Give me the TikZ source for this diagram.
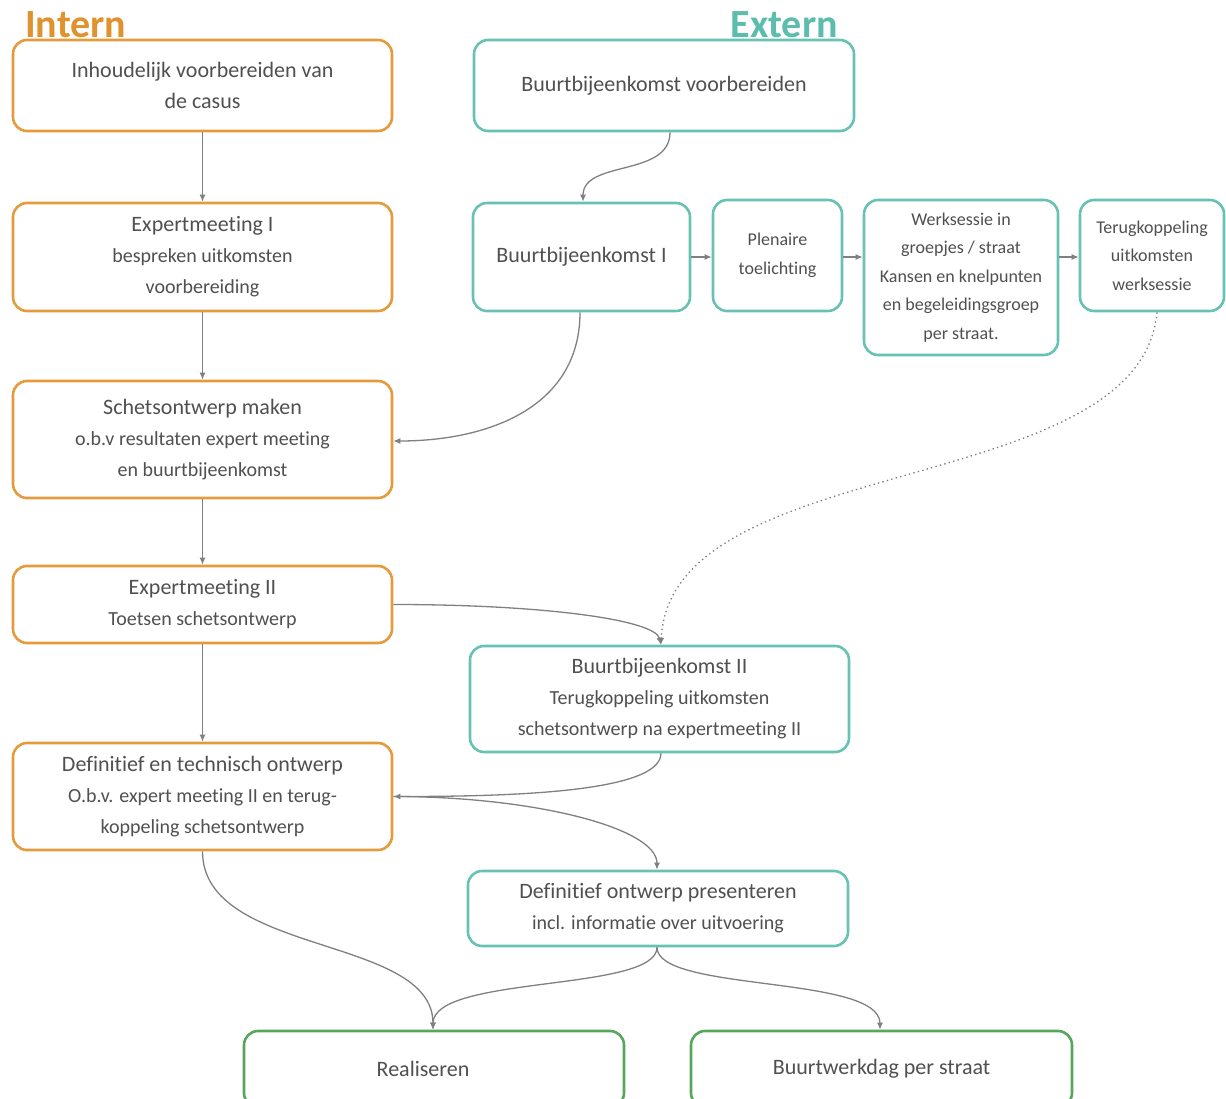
\documentclass[tikz,border=0pt]{standalone}
\usepackage{fontspec}
\setmainfont[Ligatures=NoCommon]{Carlito}
\usetikzlibrary{arrows.meta}
\definecolor{orb}{HTML}{E59A3B}
\definecolor{tlb}{HTML}{67C2B4}
\definecolor{grb}{HTML}{58A55C}
\definecolor{orh}{HTML}{E0922F}
\definecolor{tlh}{HTML}{5CBDAD}
\definecolor{txt}{HTML}{505050}
\definecolor{lnk}{HTML}{808080}
\newcommand{\tA}{\fontsize{22}{31}\selectfont}
\newcommand{\tB}{\fontsize{20}{31}\selectfont}
\newcommand{\tC}{\fontsize{18}{28.5}\selectfont}
\tikzset{
  box/.style={rectangle, rounded corners=14pt, line width=2.6pt, fill=white,
    inner sep=0pt, align=center, text=txt, font=\tB},
  obox/.style={box, draw=orb},
  tbox/.style={box, draw=tlb},
  gbox/.style={box, draw=grb},
  link/.style={draw=lnk, line width=1.3pt, -{Latex[length=7pt,width=6pt]}},
  dlink/.style={link, dash pattern=on 1.4pt off 3.2pt},
  hdr/.style={font=\fontsize{40}{44}\selectfont\bfseries, inner sep=0pt}
}
\begin{document}
\begin{tikzpicture}[x=1pt,y=-1pt]
\useasboundingbox (0,0) rectangle (1226,1099);
% intern column
\node[obox, minimum width=379, minimum height=91] (b1) at (202.5,85.5)
  {\tA Inhoudelijk voorbereiden van\\ \tA de casus};
\node[obox, minimum width=379, minimum height=108] (b2) at (202.5,257)
  {{\tA Expertmeeting I}\\ bespreken uitkomsten\\ voorbereiding};
\node[obox, minimum width=379, minimum height=117] (b3) at (202.5,439.5)
  {{\tA Schetsontwerp maken}\\ o.b.v resultaten expert meeting\\ en buurtbijeenkomst};
\node[obox, minimum width=379, minimum height=77] (b4) at (202.5,604.5)
  {{\tA Expertmeeting II}\\ Toetsen schetsontwerp};
\node[obox, minimum width=379, minimum height=107] (b5) at (202.5,796.5)
  {{\tA Definitief en technisch ontwerp}\\ O.b.v. expert meeting II en terug-\\ koppeling schetsontwerp};
% extern column
\node[tbox, minimum width=380, minimum height=91] (b6) at (664,85.5)
  {\tA Buurtbijeenkomst voorbereiden};
\node[tbox, minimum width=217, minimum height=108] (b7) at (581.5,257)
  {\tA Buurtbijeenkomst I};
\node[tbox, minimum width=129, minimum height=111, font=\tC] (b8) at (777.5,255.5)
  {Plenaire\\ toelichting};
\node[tbox, minimum width=194, minimum height=155, font=\tC] (b9) at (961,277.5)
  {Werksessie in\\ groepjes / straat\\ Kansen en knelpunten\\ en begeleidingsgroep\\ per straat.};
\node[tbox, minimum width=144, minimum height=111, font=\tC] (b10) at (1152,255.5)
  {Terugkoppeling\\ uitkomsten\\ werksessie};
\node[tbox, minimum width=379, minimum height=106] (b11) at (659.5,699)
  {{\tA Buurtbijeenkomst II}\\ Terugkoppeling uitkomsten\\ schetsontwerp na expertmeeting II};
\node[tbox, minimum width=380, minimum height=75] (b12) at (658,908.5)
  {{\tA Definitief ontwerp presenteren}\\ incl. informatie over uitvoering};
% bottom
\node[gbox, minimum width=380, minimum height=76, font=\tA] (b13) at (434,1069) {Realiseren\hspace{22pt}};
\node[gbox, minimum width=381, minimum height=76, font=\tA] (b14) at (881.5,1069) {Buurtwerkdag per straat};
% headers
\node[hdr, text=orh, anchor=base west] (hi) at (25,38) {Intern};
\node[hdr, text=tlh, anchor=base east] (he) at (838,38) {Extern};
% connectors
\draw[link] (b1.south) -- (b2.north);
\draw[link] (b2.south) -- (b3.north);
\draw[link] (b3.south) -- (b4.north);
\draw[link] (b4.south) -- (b5.north);
\draw[link] ([xshift=6pt]b6.south) .. controls +(0,45) and +(0,-42) .. ([xshift=1.5pt]b7.north);
\draw[link] ([xshift=-1.5pt]b7.south) .. controls +(0,95) and +(95,0) .. ([yshift=-1.5pt]b3.east);
\draw[link] (b7.east) -- (b8.west |- b7.east);
\draw[link] (b8.east |- b7.east) -- (b9.west |- b7.east);
\draw[link] (b9.east |- b7.east) -- (b10.west |- b7.east);
\draw[dlink] ([xshift=5pt]b10.south) .. controls (1140,500) and (670,450) .. ([xshift=1.5pt]b11.north);
\draw[link] (b4.east) .. controls +(150,0) and +(-6,-25) .. ([xshift=1.5pt]b11.north);
\draw[link] ([xshift=1.5pt]b11.south) .. controls +(0,40) and +(110,0) .. (b5.east);
\draw[link] (b5.east) .. controls +(140,0) and +(0,-42) .. ([xshift=-1pt]b12.north);
\draw[link] (b5.south) .. controls +(0,105) and +(0,-95) .. ([xshift=-1pt]b13.north);
\draw[link] ([xshift=-1pt]b12.south) .. controls +(0,45) and +(0,-55) .. ([xshift=-1pt]b13.north);
\draw[link] ([xshift=-1pt]b12.south) .. controls +(0,45) and +(0,-55) .. ([xshift=-1.5pt]b14.north);
\end{tikzpicture}
\end{document}
